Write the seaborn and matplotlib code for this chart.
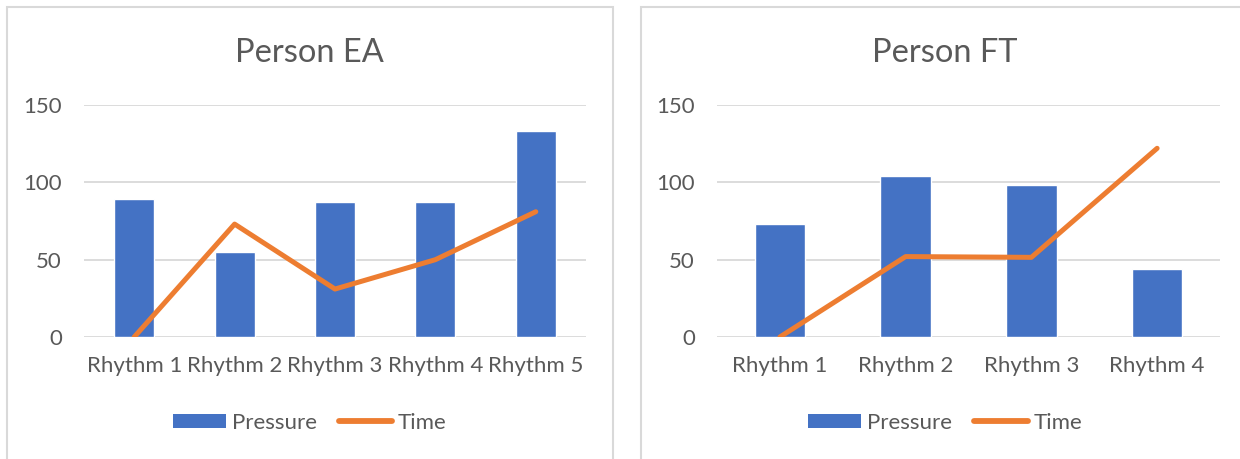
import matplotlib
matplotlib.use("Agg")
import matplotlib.pyplot as plt
import seaborn as sns
import numpy as np
from matplotlib.patches import Rectangle, Patch
from matplotlib.lines import Line2D

# ------------------------------
# Data
# ------------------------------
rhythms_ea = ["Rhythm 1", "Rhythm 2", "Rhythm 3", "Rhythm 4", "Rhythm 5"]
pressure_ea = [89, 55, 87, 87, 133]
time_ea = [0, 73, 31, 50, 81]

rhythms_ft = ["Rhythm 1", "Rhythm 2", "Rhythm 3", "Rhythm 4"]
pressure_ft = [73, 104, 98, 44]
time_ft = [0, 52, 51.5, 122]

titles = ["Person EA", "Person FT"]
y_ticks = [0, 50, 100, 150]

BLUE = "#4472C4"
ORANGE = "#ED7D31"
TEXT = "#595959"
GRID = "#D9D9D9"

sns.set_theme(style="white")
plt.rcParams["font.family"] = ["Lato", "DejaVu Sans"]

fig = plt.figure(figsize=(12.4, 4.59), dpi=100)
W, H = 1240, 459

# chart frames (Excel-style borders), pixel extents
frames = [(6.5, 613), (641, 1249)]
for x0, x1 in frames:
    fig.patches.append(Rectangle((x0 / W, -0.05), (x1 - x0) / W, 1 - 6.5 / H + 0.05,
                                 transform=fig.transFigure, fill=False,
                                 edgecolor=GRID, linewidth=1.5))

axes_boxes = [(84, 586), (717, 1220)]
datasets = [(rhythms_ea, pressure_ea, time_ea), (rhythms_ft, pressure_ft, time_ft)]

for (x0, x1), (f0, f1), (cats, pres, tim), title in zip(axes_boxes, frames, datasets, titles):
    ax = fig.add_axes([x0 / W, 1 - 337 / H, (x1 - x0) / W, 232 / H])
    sns.barplot(x=cats, y=pres, color=BLUE, width=0.4, saturation=1, ax=ax, zorder=2)
    sns.lineplot(x=np.arange(len(cats)), y=tim, color=ORANGE, linewidth=3.6,
                 solid_capstyle="round", ax=ax, zorder=3)
    ax.set_ylim(0, 150)
    ax.set_yticks(y_ticks)
    ax.set_xlim(-0.5, len(cats) - 0.5)
    ax.grid(axis="y", color=GRID, linewidth=1.3, zorder=0)
    ax.set_axisbelow(True)
    for s in ax.spines.values():
        s.set_visible(False)
    ax.tick_params(axis="both", length=0, labelsize=16, labelcolor=TEXT)
    ax.tick_params(axis="y", pad=16)
    ax.tick_params(axis="x", pad=14)

    # title and legend are centred on the chart frame, not the plot area
    cx = ((f0 + f1) / 2 - x0) / (x1 - x0)
    ax.set_title(title, fontsize=23.5, color=TEXT, pad=31, x=cx)
    handles = [Patch(facecolor=BLUE, edgecolor="none"),
               Line2D([0], [0], color=ORANGE, linewidth=4.2, solid_capstyle="round")]
    ax.legend(handles, ["Pressure", "Time"], loc="center", bbox_to_anchor=(cx, -0.37),
              ncol=2, frameon=False, fontsize=16, labelcolor=TEXT,
              handlelength=2.4, handleheight=0.6, handletextpad=0.25, columnspacing=1.0)

fig.savefig("out.png", dpi=100)
